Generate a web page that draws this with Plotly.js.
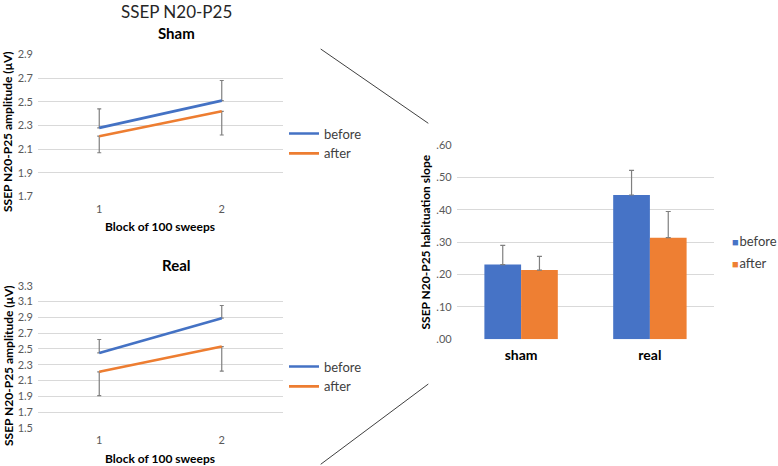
<!DOCTYPE html>
<html>
<head>
<meta charset="utf-8">
<script src="https://cdn.plot.ly/plotly-3.0.1.min.js"></script>
<style>html,body{margin:0;padding:0;background:#fff}#chart{width:778px;height:466px}</style>
</head>
<body>
<div id="chart"></div>
<script>
// ---- data ----
var blocks = ['1', '2'];
var shamBefore = [2.28, 2.51];
var shamBeforeErr = [0.16, 0.17];
var shamAfter = [2.21, 2.42];
var shamAfterErr = [0.14, 0.20];
var realBefore = [2.45, 2.89];
var realBeforeErr = [0.17, 0.16];
var realAfter = [2.21, 2.53];
var realAfterErr = [0.30, 0.31];

var groups = ['sham', 'real'];
var slopeBefore = [0.231, 0.446];
var slopeBeforeErr = [0.059, 0.076];
var slopeAfter = [0.214, 0.314];
var slopeAfterErr = [0.042, 0.081];

var seriesNames = ['before', 'after'];
var shamTicks = [1.7, 1.9, 2.1, 2.3, 2.5, 2.7, 2.9];
var realTicks = [1.5, 1.7, 1.9, 2.1, 2.3, 2.5, 2.7, 2.9, 3.1, 3.3];
var slopeTicks = [0, 0.1, 0.2, 0.3, 0.4, 0.5, 0.6];
var slopeTickText = ['.00', '.10', '.20', '.30', '.40', '.50', '.60'];

// ---- style ----
var BLUE = '#4472C4', ORANGE = '#ED7D31', BAR_BLUE = '#4673C6', BAR_ORANGE = '#EE7F33';
var ERR = '#7f7f7f', GRID = '#d9d9d9';
var FONT = 'Lato, "Open Sans", sans-serif';
var W = 778, H = 466;
function px(x) { return x / W; }
function py(y) { return 1 - y / H; }
function zeros(n) { var a = []; for (var i = 0; i < n; i++) a.push(0); return a; }

function lineTrace(x, y, err, up, color, name, xa, ya, leg) {
  return {
    type: 'scatter', mode: 'lines', x: x, y: y, name: name,
    xaxis: xa, yaxis: ya, legend: leg,
    line: {color: color, width: 2.6},
    error_y: {type: 'data', symmetric: false,
      array: up ? err : zeros(err.length),
      arrayminus: up ? zeros(err.length) : err,
      color: ERR, thickness: 1.2, width: 2}
  };
}

var traces = [
  lineTrace(blocks, shamBefore, shamBeforeErr, true, BLUE, seriesNames[0], 'x', 'y', 'legend'),
  lineTrace(blocks, shamAfter, shamAfterErr, false, ORANGE, seriesNames[1], 'x', 'y', 'legend'),
  lineTrace(blocks, realBefore, realBeforeErr, true, BLUE, seriesNames[0], 'x2', 'y2', 'legend2'),
  lineTrace(blocks, realAfter, realAfterErr, false, ORANGE, seriesNames[1], 'x2', 'y2', 'legend2'),
  {type: 'bar', x: groups, y: slopeBefore, name: seriesNames[0], xaxis: 'x3', yaxis: 'y3', showlegend: false,
   marker: {color: BAR_BLUE},
   error_y: {type: 'data', symmetric: false, array: slopeBeforeErr, arrayminus: zeros(2), color: ERR, thickness: 1.2, width: 2.5}},
  {type: 'bar', x: groups, y: slopeAfter, name: seriesNames[1], xaxis: 'x3', yaxis: 'y3', showlegend: false,
   marker: {color: BAR_ORANGE},
   error_y: {type: 'data', symmetric: false, array: slopeAfterErr, arrayminus: zeros(2), color: ERR, thickness: 1.2, width: 2.5}}
];

var tickFont = {family: FONT, size: 11, color: '#595959'};
function catAxis(domain, anchor) {
  return {domain: domain, anchor: anchor, type: 'category', range: [-0.5, 1.5],
    showgrid: false, zeroline: false, showline: false, ticks: '', tickfont: tickFont,
    ticklabelstandoff: 4, fixedrange: true};
}
function valAxis(domain, anchor, ticks, range) {
  return {domain: domain, anchor: anchor, range: range, tickvals: ticks, tickformat: '.1f',
    showgrid: true, gridcolor: GRID, gridwidth: 1, zeroline: false, showline: false, ticks: '',
    tickfont: tickFont, ticklabelstandoff: 4, fixedrange: true};
}

var legendBase = {xanchor: 'left', yanchor: 'middle', bgcolor: 'rgba(0,0,0,0)',
  font: {family: FONT, size: 13, color: '#404040'}, tracegroupgap: 0, itemwidth: 30};

function ann(text, x, y, size, bold, angle, color, xanchor) {
  return {text: bold ? '<b>' + text + '</b>' : text, x: px(x), y: py(y), xref: 'paper', yref: 'paper',
    xanchor: xanchor || 'center', yanchor: 'middle', showarrow: false, textangle: angle || 0,
    borderpad: 0, font: {family: FONT, size: size, color: color || '#000'}};
}
function legendEntry(color, name, y) {
  return ann('<span style="color:' + color + ';font-size:11px">■</span>&#8202;' + name, 731, y, 13, false, 0, '#404040', 'left');
}

var layout = {
  width: W, height: H, margin: {l: 0, r: 0, t: 0, b: 0, autoexpand: false},
  paper_bgcolor: '#fff', plot_bgcolor: '#fff', showlegend: true,
  barmode: 'group', bargap: 0.43, bargroupgap: 0,
  xaxis: catAxis([px(38), px(283)], 'y'),
  yaxis: valAxis([py(196.7), py(54.3)], 'x', shamTicks, [1.699, 2.901]),
  xaxis2: catAxis([px(38), px(283)], 'y2'),
  yaxis2: valAxis([py(428), py(285.7)], 'x2', realTicks, [1.499, 3.301]),
  xaxis3: {domain: [px(456.7), px(714.3)], anchor: 'y3', type: 'category', showgrid: false, zeroline: false,
    showline: false, ticks: '', ticklabelstandoff: 6, tickfont: {family: FONT, size: 14, color: '#000', weight: 'bold'}},
  yaxis3: {domain: [py(339.3), py(145)], anchor: 'x3', range: [0, 0.6005], tickvals: slopeTicks, ticktext: slopeTickText,
    showgrid: true, gridcolor: GRID, zeroline: false, showline: false, ticks: '', tickfont: tickFont, ticklabelstandoff: 4},
  legend: Object.assign({}, legendBase, {x: px(284), y: py(143.5)}),
  legend2: Object.assign({}, legendBase, {x: px(284), y: py(376.5)}),
  annotations: [
    ann('SSEP N20-P25', 176, 11, 17, false, 0, '#262626'),
    ann('Sham', 176, 33, 15, true, 0, '#000'),
    ann('Real', 176, 265, 15, true, 0, '#000'),
    ann('SSEP N20-P25 amplitude (μV)', 8, 132, 12, true, -90),
    ann('SSEP N20-P25 amplitude (μV)', 8, 366, 12, true, -90),
    ann('Block of 100 sweeps', 160, 226, 12, true),
    ann('Block of 100 sweeps', 160, 458, 12, true),
    ann('SSEP N20-P25 habituation slope', 425, 242.5, 12, true, -90),
    legendEntry(BAR_BLUE, seriesNames[0], 241),
    legendEntry(BAR_ORANGE, seriesNames[1], 263)
  ],
  shapes: [
    {type: 'line', xref: 'paper', yref: 'paper', x0: px(320.7), y0: py(49), x1: px(428.3), y1: py(123.3), line: {color: '#404040', width: 1}},
    {type: 'line', xref: 'paper', yref: 'paper', x0: px(320.7), y0: py(464.3), x1: px(428.3), y1: py(384), line: {color: '#404040', width: 1}}
  ]
};

Plotly.newPlot('chart', traces, layout, {displayModeBar: false, staticPlot: true});
</script>
</body>
</html>
